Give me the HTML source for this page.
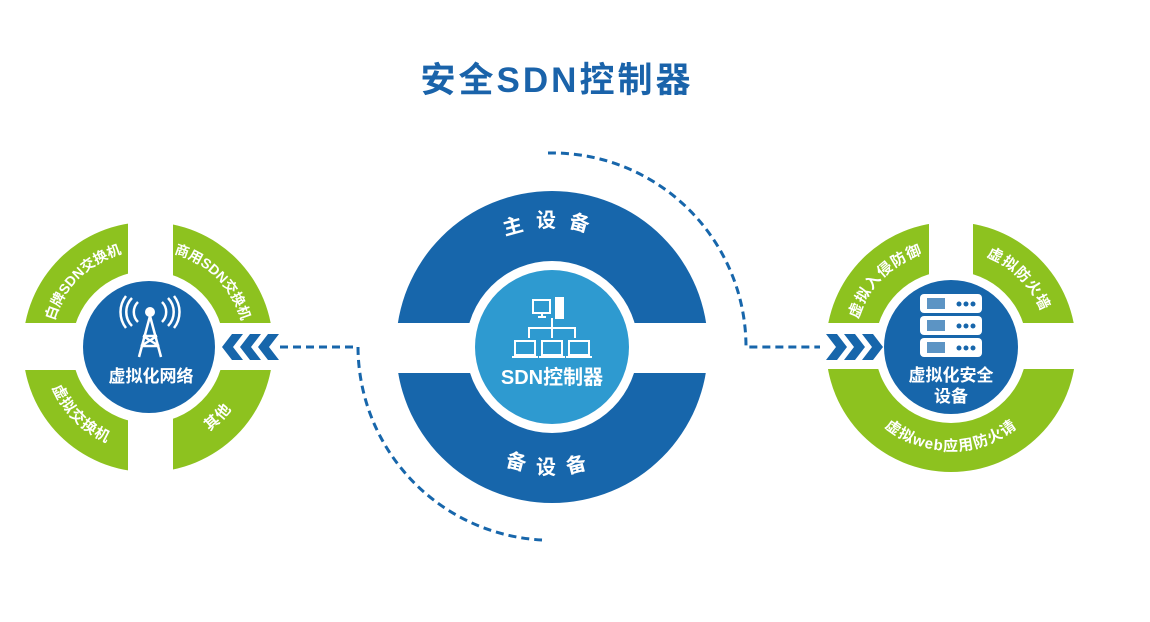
<!DOCTYPE html>
<html><head><meta charset="utf-8"><style>
html,body{margin:0;padding:0;background:#fff;}
svg{display:block}
text{font-family:"Liberation Sans","Noto Sans CJK SC",sans-serif;font-weight:bold;}
</style></head><body>
<svg width="1150" height="622" viewBox="0 0 1150 622" xmlns="http://www.w3.org/2000/svg">
<defs>
<path id="l1" d="M51,347 A97,97 0 0 1 148,250"/>
<path id="l2" d="M148,250 A97,97 0 0 1 245,347"/>
<path id="l3" d="M44,347 A104,104 0 0 0 148,451"/>
<path id="l4" d="M148,451 A104,104 0 0 0 252,347"/>
<path id="r1" d="M854,347 A97,97 0 0 1 951,250"/>
<path id="r2" d="M951,250 A97,97 0 0 1 1048,347"/>
<path id="r3" d="M847,347 A104,104 0 0 0 1055,347"/>
<path id="c1" d="M432,347 A120,120 0 0 1 672,347"/>
<path id="c2" d="M425,347 A127,127 0 0 0 679,347"/>
</defs>

<text x="557" y="92" font-size="35" fill="#1a63aa" text-anchor="middle" letter-spacing="3">安全SDN控制器</text>

<g fill="none" stroke="#1766ab" stroke-width="3" stroke-dasharray="8,5">
<path d="M548,153 A194,194 0 0 1 746,347 L826,347"/>
<path d="M280,347 L358,347 A194,194 0 0 0 542,540"/>
</g>

<circle cx="148" cy="347" r="125" fill="#8dc21f"/>
<rect x="18" y="323" width="262" height="47" fill="#fff"/>
<rect x="128" y="218" width="45" height="260" fill="#fff"/>
<circle cx="148" cy="347" r="76" fill="#fff"/>
<circle cx="149" cy="347" r="66" fill="#1766ab"/>
<g font-size="14" fill="#fff">
<text><textPath href="#l1" startOffset="50%" text-anchor="middle">白牌SDN交换机</textPath></text>
<text><textPath href="#l2" startOffset="50%" text-anchor="middle">商用SDN交换机</textPath></text>
</g>
<g font-size="15" fill="#fff" letter-spacing="1">
<text><textPath href="#l3" startOffset="50%" text-anchor="middle">虚拟交换机</textPath></text>
<text><textPath href="#l4" startOffset="50%" text-anchor="middle">其他</textPath></text>
</g>
<g stroke="#fff" fill="none" stroke-width="3">
<circle cx="150" cy="312" r="5" fill="#fff" stroke="none"/>
<path d="M150,316 L139,357 M150,316 L161,357 M143,336 L157,336 M141,346 L159,346 M143,336 L159,346 M157,336 L141,346" stroke-width="2.5"/>
<path d="M138,302 A14,14 0 0 0 138,322 M162,302 A14,14 0 0 1 162,322" stroke-width="2.5"/>
<path d="M132,298 A20,20 0 0 0 132,326 M168,298 A20,20 0 0 1 168,326" stroke-width="2.5"/>
<path d="M126,296 A26,26 0 0 0 126,328 M174,296 A26,26 0 0 1 174,328" stroke-width="2.5"/>
</g>
<text x="151" y="382" font-size="17" fill="#fff" text-anchor="middle">虚拟化网络</text>
<g fill="#1766ab">
<polygon points="232,334 243,334 233,347 243,360 232,360 222,347"/>
<polygon points="250,334 261,334 251,347 261,360 250,360 240,347"/>
<polygon points="268,334 279,334 269,347 279,360 268,360 258,347"/>
</g>

<circle cx="552" cy="347" r="156" fill="#1766ab"/>
<rect x="390" y="323" width="330" height="50" fill="#fff"/>
<circle cx="552" cy="347" r="86" fill="#fff"/>
<circle cx="552" cy="347" r="77" fill="#2e9ad0"/>
<g font-size="20" fill="#fff" letter-spacing="12">
<text><textPath href="#c1" startOffset="50%" text-anchor="middle">主设备</textPath></text>
<text><textPath href="#c2" startOffset="50%" text-anchor="middle">备设备</textPath></text>
</g>
<g stroke="#fff" fill="none" stroke-width="2">
<rect x="533" y="300" width="17" height="13"/>
<path d="M538,317 L546,317 M542,313 L542,317"/>
<rect x="556" y="298" width="7" height="20" fill="#fff"/>
<path d="M552,318 L552,328 M529,338 L529,328 L575,328 L575,338 M552,328 L552,338"/>
<rect x="515" y="341" width="20" height="14"/><path d="M512,357 L538,357"/>
<rect x="542" y="341" width="20" height="14"/><path d="M539,357 L565,357"/>
<rect x="569" y="341" width="20" height="14"/><path d="M566,357 L592,357"/>
</g>
<text x="552" y="384" font-size="20" fill="#fff" text-anchor="middle">SDN控制器</text>

<circle cx="951" cy="347" r="125" fill="#8dc21f"/>
<rect x="820" y="323" width="262" height="46" fill="#fff"/>
<rect x="929" y="218" width="44" height="106" fill="#fff"/>
<circle cx="951" cy="347" r="76" fill="#fff"/>
<circle cx="951" cy="347" r="67" fill="#1766ab"/>
<g font-size="15" fill="#fff" letter-spacing="1">
<text><textPath href="#r1" startOffset="50%" text-anchor="middle">虚拟入侵防御</textPath></text>
<text><textPath href="#r2" startOffset="50%" text-anchor="middle">虚拟防火墙</textPath></text>
<text><textPath href="#r3" startOffset="50%" text-anchor="middle">虚拟web应用防火请</textPath></text>
</g>
<g fill="#fff">
<rect x="920" y="294" width="62" height="19" rx="4"/>
<rect x="920" y="316" width="62" height="19" rx="4"/>
<rect x="920" y="338" width="62" height="19" rx="4"/>
</g>
<g fill="#1766ab">
<rect x="927" y="298" width="18" height="11" opacity="0.7"/>
<rect x="927" y="320" width="18" height="11" opacity="0.7"/>
<rect x="927" y="342" width="18" height="11" opacity="0.7"/>
<circle cx="959" cy="304" r="2.5"/><circle cx="966" cy="304" r="2.5"/><circle cx="973" cy="304" r="2.5"/>
<circle cx="959" cy="326" r="2.5"/><circle cx="966" cy="326" r="2.5"/><circle cx="973" cy="326" r="2.5"/>
<circle cx="959" cy="348" r="2.5"/><circle cx="966" cy="348" r="2.5"/><circle cx="973" cy="348" r="2.5"/>
</g>
<text x="951" y="381" font-size="17" fill="#fff" text-anchor="middle">虚拟化安全</text>
<text x="951" y="402" font-size="17" fill="#fff" text-anchor="middle">设备</text>
<g fill="#1766ab">
<polygon points="826,334 837,334 847,347 837,360 826,360 836,347"/>
<polygon points="844,334 855,334 865,347 855,360 844,360 854,347"/>
<polygon points="862,334 873,334 883,347 873,360 862,360 872,347"/>
</g>
</svg>
</body></html>
